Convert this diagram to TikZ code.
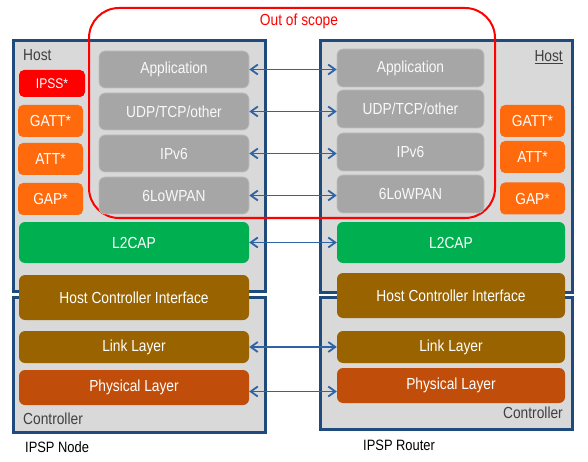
\documentclass[tikz,border=0pt]{standalone}
\usepackage{fontspec}
\setmainfont[FakeStretch=0.86]{Liberation Sans}
\usetikzlibrary{arrows.meta}
\definecolor{hostblue}{HTML}{1F4A7C}
\definecolor{arrowblue}{HTML}{2E63A6}
\definecolor{hostfill}{HTML}{D9D9D9}
\definecolor{graybox}{HTML}{A6A6A6}
\definecolor{grayedge}{HTML}{BFBFBF}
\definecolor{orangebox}{HTML}{FF6A0D}
\definecolor{greenbox}{HTML}{00B050}
\definecolor{brownbox}{HTML}{996300}
\definecolor{phybox}{HTML}{C04E0A}
\definecolor{labelgray}{HTML}{404040}
\begin{document}
\begin{tikzpicture}[x=1pt,y=-1pt,
  container/.style={draw=hostblue,line width=3pt,fill=hostfill},
  layer/.style={rounded corners=6pt,inner sep=0pt,text=white,font=\fontsize{16}{19}\selectfont},
  glayer/.style={layer,fill=graybox,draw=grayedge,line width=0.6pt,text=white!95!gray},
  small/.style={layer,rounded corners=5pt,fill=orangebox,minimum width=65pt,minimum height=32pt},
  lbl/.style={inner sep=0pt,font=\fontsize{16}{19}\selectfont},
  link/.style={draw=arrowblue,line width=1.8pt,{Straight Barb[length=7pt,width=10pt]}-{Straight Barb[length=7pt,width=10pt]}}]
\useasboundingbox (0,0) rectangle (588,462);
\fill[white] (0,0) rectangle (588,462);
% containers
\draw[container] (13.5,40.5) rectangle (265.5,291.5);
\draw[container] (13.5,297.5) rectangle (265.5,432);
\draw[container] (320.5,40.5) rectangle (572,292);
\draw[container] (320.5,297.5) rectangle (572,429);
% scope
\draw[red,line width=2pt,rounded corners=30pt] (89,8) rectangle (495,218);
\node[lbl,text=red] (scope) at (299,21) {Out of scope};
% labels
\node[lbl,text=labelgray,anchor=west] (hostL) at (23,55) {Host};
\node[lbl,text=labelgray,anchor=east] (hostR) at (563,57) {\underline{Host}};
\node[lbl,text=labelgray,anchor=west] (ctrlL) at (23,419) {Controller};
\node[lbl,text=labelgray,anchor=east] (ctrlR) at (563,413) {Controller};
\node[lbl,anchor=west,font=\fontsize{15}{18}\selectfont] (node) at (25,447) {IPSP Node};
\node[lbl,anchor=west,font=\fontsize{15}{18}\selectfont] (router) at (363,445) {IPSP Router};
% left gray stack
\node[glayer,minimum width=150pt,minimum height=37pt] (appL) at (174,69.5) {Application};
\node[glayer,minimum width=150pt,minimum height=37pt] (udpL) at (174,111.5) {UDP/TCP/other};
\node[glayer,minimum width=150pt,minimum height=37pt] (ipL) at (174,153.5) {IPv6};
\node[glayer,minimum width=150pt,minimum height=37pt] (lowL) at (174,195.5) {6LoWPAN};
% right gray stack
\node[glayer,minimum width=147pt,minimum height=38pt] (appR) at (410.5,68) {Application};
\node[glayer,minimum width=147pt,minimum height=38pt] (udpR) at (410.5,109) {UDP/TCP/other};
\node[glayer,minimum width=147pt,minimum height=38pt] (ipR) at (410.5,152) {IPv6};
\node[glayer,minimum width=147pt,minimum height=38pt] (lowR) at (410.5,194) {6LoWPAN};
% small left
\node[small,fill=red,minimum width=66pt,minimum height=27pt,font=\fontsize{14}{16}\selectfont] (ipss) at (52,83.5) {IPSS*};
\node[small] (gattL) at (50.5,121) {GATT*};
\node[small] (attL) at (50.5,159) {ATT*};
\node[small] (gapL) at (50.5,199) {GAP*};
% small right
\node[small] (gattR) at (532.5,121) {GATT*};
\node[small] (attR) at (532.5,157) {ATT*};
\node[small] (gapR) at (532.5,198.5) {GAP*};
% lower layers left
\node[layer,fill=greenbox,minimum width=230pt,minimum height=41pt] (l2L) at (134,242.5) {L2CAP};
\node[layer,fill=brownbox,minimum width=230pt,minimum height=45pt] (hciL) at (134,297.5) {Host Controller Interface};
\node[layer,fill=brownbox,minimum width=230pt,minimum height=32pt] (llL) at (134,347) {Link Layer};
\node[layer,fill=phybox,minimum width=230pt,minimum height=35pt] (phyL) at (134,387.5) {Physical Layer};
% lower layers right
\node[layer,fill=greenbox,minimum width=228pt,minimum height=41pt] (l2R) at (451,242.5) {L2CAP};
\node[layer,fill=brownbox,minimum width=228pt,minimum height=45pt] (hciR) at (451,295.5) {Host Controller Interface};
\node[layer,fill=brownbox,minimum width=228pt,minimum height=32pt] (llR) at (451,347) {Link Layer};
\node[layer,fill=phybox,minimum width=228pt,minimum height=35pt] (phyR) at (451,385.5) {Physical Layer};
% connectors
\draw[link] (appL.east) -- (appL.east -| appR.west);
\draw[link] (udpL.east) -- (udpL.east -| udpR.west);
\draw[link] (ipL.east) -- (ipL.east -| ipR.west);
\draw[link] (lowL.east) -- (lowL.east -| lowR.west);
\draw[link] (l2L.east) -- (l2L.east -| l2R.west);
\draw[link] (llL.east) -- (llL.east -| llR.west);
\draw[link] ([yshift=-4pt]phyL.east) -- ([yshift=-4pt]phyL.east -| phyR.west);
\end{tikzpicture}
\end{document}
